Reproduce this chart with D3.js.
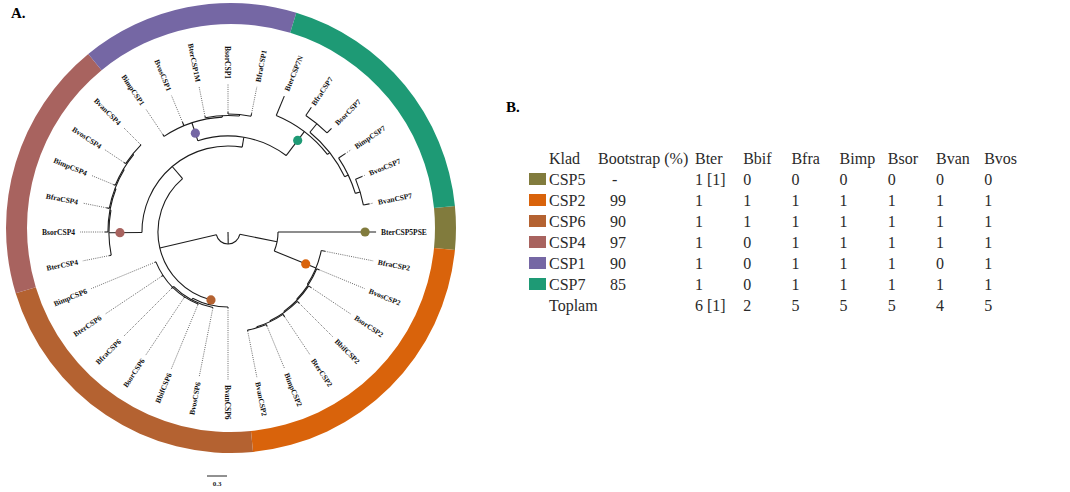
<!DOCTYPE html>
<html><head><meta charset="utf-8">
<script src="https://cdn.jsdelivr.net/npm/d3@7"></script>
<style>html,body{margin:0;padding:0;background:#fff;} svg{display:block;}</style>
</head><body>
<svg id="chart" width="1070" height="492"></svg>
<script>
// Phylogeny edges: [node, parent, branch length (substitutions/site)]
const treeEdges = [
  ["root", null, 0.18],
  ["R", "root", 0.57],
  ["BterCSP5PSE", "R", 1.47],
  ["CSP2", "R", 0.675],
  ["BfraCSP2", "CSP2", 0.06],
  ["c2a", "CSP2", 0.015],
  ["BvosCSP2", "c2a", 0.045],
  ["c2b", "c2a", 0.015],
  ["BsorCSP2", "c2b", 0.045],
  ["c2c", "c2b", 0.015],
  ["BbifCSP2", "c2c", 0.045],
  ["c2d", "c2c", 0.015],
  ["BterCSP2", "c2d", 0.045],
  ["c2e", "c2d", 0.015],
  ["BimpCSP2", "c2e", 0.03],
  ["BvanCSP2", "c2e", 0.015],
  ["L", "root", 0.87],
  ["CSP6", "L", 0.075],
  ["BvanCSP6", "CSP6", 0.015],
  ["c6a", "CSP6", 0.03],
  ["BvosCSP6", "c6a", 0.01],
  ["c6b", "c6a", 0.015],
  ["BbifCSP6", "c6b", 0.01],
  ["BsorCSP6", "c6b", 0.015],
  ["BfraCSP6", "c6b", 0.03],
  ["BterCSP6", "c6b", 0.03],
  ["BimpCSP6", "c6b", 0.015],
  ["M", "L", 0.24],
  ["CSP4", "M", 0.495],
  ["BterCSP4", "CSP4", 0.03],
  ["c4a", "CSP4", 0.015],
  ["BsorCSP4", "c4a", 0.045],
  ["c4b", "c4a", 0.015],
  ["BfraCSP4", "c4b", 0.045],
  ["c4c", "c4b", 0.015],
  ["BimpCSP4", "c4c", 0.03],
  ["c4d", "c4c", 0.015],
  ["BvosCSP4", "c4d", 0.03],
  ["BvanCSP4", "c4d", 0.015],
  ["N", "M", 0.15],
  ["CSP1", "N", 0.285],
  ["BimpCSP1", "CSP1", 0.0375],
  ["BvosCSP1", "CSP1", 0.06],
  ["c1a", "CSP1", 0.0225],
  ["BterCSP1M", "c1a", 0.0225],
  ["c1b", "c1a", 0.0225],
  ["BsorCSP1", "c1b", 0.03],
  ["BfraCSP1", "c1b", 0.045],
  ["CSP7", "N", 0.45],
  ["BterCSP7N", "CSP7", 0.315],
  ["c7a", "CSP7", 0.045],
  ["c7b", "c7a", 0.165],
  ["BfraCSP7", "c7b", 0.15],
  ["BsorCSP7", "c7b", 0.09],
  ["c7c", "c7a", 0.06],
  ["BimpCSP7", "c7c", 0.12],
  ["c7d", "c7c", 0.075],
  ["BvosCSP7", "c7d", 0.105],
  ["BvanCSP7", "c7d", 0.09]
];

// Clades (table order) with their crown node, colour and bootstrap support
const cladeNames  = ["CSP5", "CSP2", "CSP6", "CSP4", "CSP1", "CSP7"];
const cladeNodes  = ["BterCSP5PSE", "CSP2", "CSP6", "CSP4", "CSP1", "CSP7"];
const cladeColors = ["#817b3d", "#d9630b", "#b46231", "#a8635f", "#7567a4", "#1e9a75"];
const bootstrap   = ["-", "99", "90", "97", "90", "85"];

// Gene copy numbers per species
const speciesCols = ["Bter", "Bbif", "Bfra", "Bimp", "Bsor", "Bvan", "Bvos"];
const copyCounts = [
  ["1 [1]", "0", "0", "0", "0", "0", "0"],
  ["1", "1", "1", "1", "1", "1", "1"],
  ["1", "1", "1", "1", "1", "1", "1"],
  ["1", "0", "1", "1", "1", "1", "1"],
  ["1", "0", "1", "1", "1", "0", "1"],
  ["1", "0", "1", "1", "1", "1", "1"]
];
const totals = ["6 [1]", "2", "5", "5", "5", "4", "5"];
const scaleBarValue = 0.3;

const svg = d3.select("#chart");
const serif = "'Liberation Serif','Times New Roman',serif";

// ---------- Panel A: circular tree ----------
const root = d3.stratify().id(d => d[0]).parentId(d => d[1])(treeEdges);
root.eachBefore(n => { n.dist = (n.parent ? n.parent.dist : 0) + n.data[2]; });

const leaves = root.leaves();
const startDeg = 84.375;
const angle = d3.scaleLinear().domain([0, leaves.length]).range([startDeg, startDeg + 360]);
const step = 360 / leaves.length;
leaves.forEach((lf, j) => { lf.theta = angle(j + 0.5); });
root.eachAfter(n => {
  if (n.children) n.theta = (n.children[0].theta + n.children[n.children.length - 1].theta) / 2;
});

const rScale = d3.scaleLinear().domain([0, 1]).range([0, 66.7]);
const labelR = 153, dotEndR = 148;
const rad = d => d * Math.PI / 180;
const pt = (r, t) => [r * Math.sin(rad(t)), -r * Math.cos(rad(t))];

const cx = 228, cy = 232;
const gTree = svg.append("g").attr("transform", `translate(${cx},${cy})`);

// outer clade ring
const gRing = svg.append("g").attr("transform", "translate(231,228)");
const ringArc = d3.arc().innerRadius(204).outerRadius(225);
cladeNodes.forEach((id, i) => {
  const node = root.descendants().find(n => n.id === id);
  const lv = node.leaves();
  const a0 = d3.min(lv, d => d.theta) - step / 2;
  const a1 = d3.max(lv, d => d.theta) + step / 2;
  gRing.append("path")
    .attr("d", ringArc({ startAngle: rad(a0), endAngle: rad(a1) }))
    .attr("fill", cladeColors[i]);
});

const branchColor = "#1c1c1c";
// radial branches
root.descendants().forEach(n => {
  const r0 = n.parent ? rScale(n.parent.dist) : 0;
  const r1 = rScale(n.dist);
  const p0 = pt(r0, n.theta), p1 = pt(r1, n.theta);
  gTree.append("line")
    .attr("x1", p0[0]).attr("y1", p0[1]).attr("x2", p1[0]).attr("y2", p1[1])
    .attr("stroke", branchColor).attr("stroke-width", 1.1);
});
// connecting arcs
root.descendants().filter(n => n.children).forEach(n => {
  const r = rScale(n.dist);
  const t0 = n.children[0].theta, t1 = n.children[n.children.length - 1].theta;
  const p = d3.path();
  p.arc(0, 0, r, rad(t0 - 90), rad(t1 - 90), false);
  gTree.append("path").attr("d", p.toString())
    .attr("fill", "none").attr("stroke", branchColor).attr("stroke-width", 1.1);
});
// dotted leaders to labels
leaves.forEach(lf => {
  const r1 = rScale(lf.dist);
  if (r1 < dotEndR - 1) {
    const p0 = pt(r1, lf.theta), p1 = pt(dotEndR, lf.theta);
    gTree.append("line")
      .attr("x1", p0[0]).attr("y1", p0[1]).attr("x2", p1[0]).attr("y2", p1[1])
      .attr("stroke", "#444").attr("stroke-width", 0.8).attr("stroke-dasharray", "1,1.2");
  }
});
// leaf labels
leaves.forEach(lf => {
  const t = lf.theta;
  const flip = t > 180 && t <= 360;
  gTree.append("text")
    .attr("transform", `rotate(${t - 90}) translate(${labelR},0)` + (flip ? " rotate(180)" : ""))
    .attr("text-anchor", flip ? "end" : "start")
    .attr("dy", "0.35em")
    .attr("font-family", serif).attr("font-weight", "bold").attr("font-size", 7.5)
    .attr("fill", "#111")
    .text(lf.id);
});
// bootstrap markers on clade stems
cladeNodes.forEach((id, i) => {
  const node = root.descendants().find(n => n.id === id);
  const rn = rScale(node.dist), rp = rScale(node.parent.dist);
  const r = Math.max(rp, rn - 11);
  const p = pt(r, node.theta);
  gTree.append("circle").attr("cx", p[0]).attr("cy", p[1]).attr("r", 4.6)
    .attr("fill", cladeColors[i]);
});

// scale bar
const sbX = 207, sbY = 476;
svg.append("line").attr("x1", sbX).attr("x2", sbX + rScale(scaleBarValue))
  .attr("y1", sbY).attr("y2", sbY).attr("stroke", "#222").attr("stroke-width", 1);
svg.append("text").attr("x", sbX + rScale(scaleBarValue) / 2).attr("y", 486)
  .attr("text-anchor", "middle").attr("font-family", serif).attr("font-weight", "bold")
  .attr("font-size", 7).attr("fill", "#222").text(String(scaleBarValue));

svg.append("text").attr("x", 11).attr("y", 18).attr("font-family", serif)
  .attr("font-weight", "bold").attr("font-size", 15).text("A.");

// ---------- Panel B: table ----------
svg.append("text").attr("x", 506).attr("y", 112).attr("font-family", serif)
  .attr("font-weight", "bold").attr("font-size", 15).text("B.");

const tableFont = 16, tColor = "#2a2a2a";
const rowY = d3.scaleLinear().domain([0, 1]).range([158, 179]);
const colX = d3.scaleLinear().domain([0, 1]).range([695, 743.2]);
const gT = svg.append("g").attr("font-family", serif).attr("font-size", tableFont).attr("fill", tColor);

const txt = (x, y, s) => gT.append("text").attr("x", x).attr("y", y).attr("dy", "0.35em").text(s);
txt(549, rowY(0), "Klad");
txt(598, rowY(0), "Bootstrap (%)");
speciesCols.forEach((s, k) => txt(colX(k), rowY(0), s));

cladeNames.forEach((c, i) => {
  const y = rowY(i + 1);
  gT.append("rect").attr("x", 529).attr("y", y - 6).attr("width", 17).attr("height", 12)
    .attr("fill", cladeColors[i]);
  txt(549, y, c);
  txt(bootstrap[i] === "-" ? 612 : 610, y, bootstrap[i]);
  copyCounts[i].forEach((v, k) => txt(colX(k), y, v));
});
const yTot = rowY(cladeNames.length + 1);
txt(549, yTot, "Toplam");
totals.forEach((v, k) => txt(colX(k), yTot, v));
</script>
</body></html>
